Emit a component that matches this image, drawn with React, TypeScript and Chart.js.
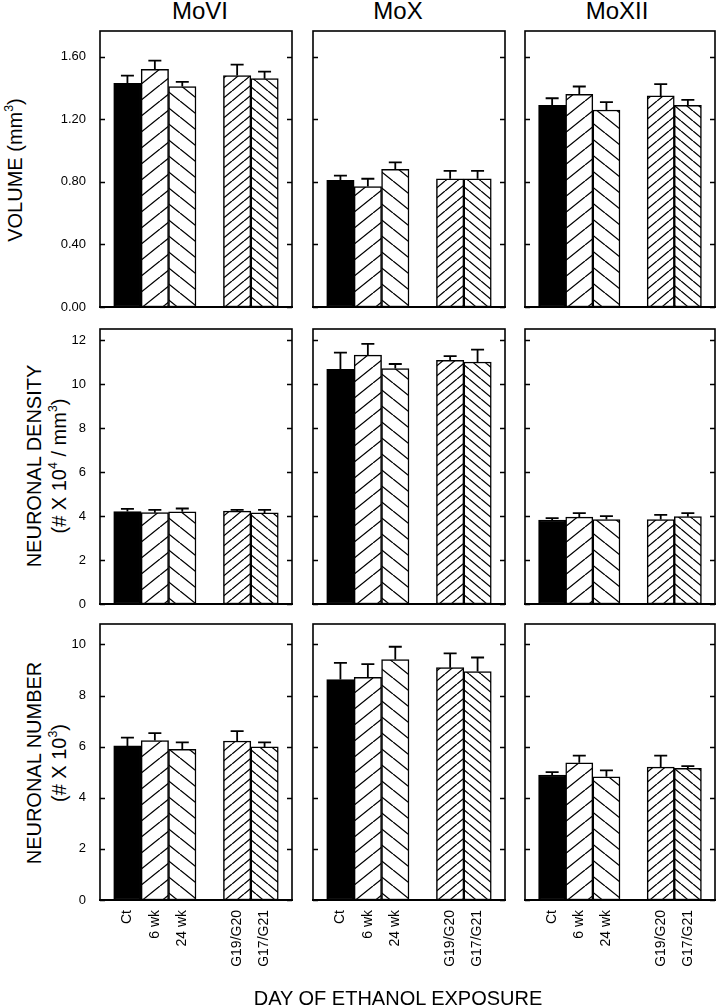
import React, { useEffect, useRef } from 'react';
import { Chart, registerables } from 'chart.js';
Chart.register(...registerables);

const FONT = "'Liberation Sans', Arial, Helvetica, sans-serif";
Chart.defaults.font.family = FONT;
Chart.defaults.color = '#000';

// ---- data ----
const categories = ['', 'Ct', '6 wk', '24 wk', '', 'G19/G20', 'G17/G21', ''];
const regions = ['MoVI', 'MoX', 'MoXII'];

const volumeTicks = [0, 0.4, 0.8, 1.2, 1.6];
const densityTicks = [0, 2, 4, 6, 8, 10, 12];
const numberTicks = [0, 2, 4, 6, 8, 10];

const volMoVI = [null, 1.43, 1.52, 1.41, null, 1.48, 1.46, null];
const volMoVIErr = [null, 0.05, 0.055, 0.03, null, 0.07, 0.045, null];
const volMoX = [null, 0.81, 0.77, 0.88, null, 0.82, 0.82, null];
const volMoXErr = [null, 0.03, 0.05, 0.045, null, 0.05, 0.05, null];
const volMoXII = [null, 1.29, 1.36, 1.26, null, 1.35, 1.29, null];
const volMoXIIErr = [null, 0.045, 0.05, 0.05, null, 0.075, 0.035, null];

const denMoVI = [null, 4.2, 4.15, 4.19, null, 4.22, 4.14, null];
const denMoVIErr = [null, 0.12, 0.13, 0.15, null, 0.06, 0.14, null];
const denMoX = [null, 10.67, 11.31, 10.7, null, 11.08, 11.0, null];
const denMoXErr = [null, 0.76, 0.51, 0.21, null, 0.19, 0.56, null];
const denMoXII = [null, 3.82, 3.95, 3.84, null, 3.84, 3.97, null];
const denMoXIIErr = [null, 0.08, 0.18, 0.15, null, 0.21, 0.16, null];

const numMoVI = [null, 6.03, 6.24, 5.9, null, 6.22, 5.99, null];
const numMoVIErr = [null, 0.32, 0.29, 0.27, null, 0.39, 0.18, null];
const numMoX = [null, 8.63, 8.71, 9.41, null, 9.09, 8.94, null];
const numMoXErr = [null, 0.65, 0.52, 0.5, null, 0.56, 0.55, null];
const numMoXII = [null, 4.89, 5.37, 4.82, null, 5.2, 5.15, null];
const numMoXIIErr = [null, 0.11, 0.28, 0.25, null, 0.45, 0.09, null];

// ---- layout ----
const COLS = [
  { left: 100, width: 192, title: 200 },
  { left: 313, width: 192, title: 398 },
  { left: 525, width: 190, title: 617 },
];
const ROWS = [
  { top: 31, height: 276 },
  { top: 329, height: 275 },
  { top: 624, height: 276 },
];

function makeHatch(dir: 'fwd' | 'back', w: number, h: number) {
  const c = document.createElement('canvas');
  c.width = w;
  c.height = h;
  const g = c.getContext('2d')!;
  g.fillStyle = '#fff';
  g.fillRect(0, 0, w, h);
  g.strokeStyle = '#000';
  g.lineWidth = 1.3;
  g.beginPath();
  for (const dx of [-w, 0, w]) {
    if (dir === 'fwd') {
      g.moveTo(dx, h);
      g.lineTo(dx + w, 0);
    } else {
      g.moveTo(dx, 0);
      g.lineTo(dx + w, h);
    }
  }
  g.stroke();
  return g.createPattern(c, 'repeat')!;
}

function zeroPad(s: any) {
  s.paddingTop = 0;
  s.paddingBottom = 0;
  s.paddingLeft = 0;
  s.paddingRight = 0;
}

type PanelProps = {
  row: number;
  col: number;
  values: (number | null)[];
  errors: (number | null)[];
  yMax: number;
  ticks: number[];
  digits: number;
};

function Panel({ row, col, values, errors, yMax, ticks, digits }: PanelProps) {
  const ref = useRef<HTMLCanvasElement>(null);
  const C = COLS[col];
  const R = ROWS[row];
  const padL = 60;
  const padT = 10;
  const padR = 6;
  const bottomH = row === 2 ? 90 : 10;
  const cw = padL + C.width + padR;
  const ch = padT + R.height + bottomH;
  const showY = col === 0;
  const showX = row === 2;

  useEffect(() => {
    const fills = [
      '#fff',
      '#000',
      makeHatch('fwd', 20, 16),
      makeHatch('back', 20, 16),
      '#fff',
      makeHatch('fwd', 12, 10),
      makeHatch('back', 12, 10),
      '#fff',
    ];
    const deco = {
      id: 'deco',
      afterDatasetsDraw(chart: any) {
        const { ctx, chartArea: a, scales } = chart;
        const y = scales.y;
        const meta = chart.getDatasetMeta(0);
        ctx.save();
        ctx.strokeStyle = '#000';
        ctx.lineWidth = 1.8;
        meta.data.forEach((el: any, i: number) => {
          const v = values[i];
          const e = errors[i];
          if (v == null || e == null) return;
          const top = y.getPixelForValue(v + e);
          const base = y.getPixelForValue(v);
          ctx.beginPath();
          ctx.moveTo(el.x, base);
          ctx.lineTo(el.x, top);
          ctx.moveTo(el.x - 6.5, top);
          ctx.lineTo(el.x + 6.5, top);
          ctx.stroke();
        });
        ctx.lineWidth = 1.5;
        y.ticks.forEach((t: any) => {
          const py = Math.round(y.getPixelForValue(t.value)) + 0.5;
          ctx.beginPath();
          ctx.moveTo(a.left, py);
          ctx.lineTo(a.left + 5, py);
          ctx.moveTo(a.right - 5, py);
          ctx.lineTo(a.right, py);
          ctx.stroke();
        });
        ctx.lineWidth = 1.6;
        ctx.strokeRect(a.left, a.top, a.right - a.left, a.bottom - a.top);
        ctx.lineWidth = 2.2;
        ctx.beginPath();
        ctx.moveTo(a.left - 1, a.bottom);
        ctx.lineTo(a.right + 1, a.bottom);
        ctx.stroke();
        ctx.restore();
      },
    };
    const chart = new Chart(ref.current!, {
      type: 'bar',
      data: {
        labels: categories,
        datasets: [
          {
            data: values as any,
            backgroundColor: fills as any,
            borderColor: '#000',
            borderWidth: 1.5,
            borderSkipped: false,
            categoryPercentage: 1,
            barPercentage: 1,
          },
        ],
      },
      options: {
        responsive: false,
        animation: false,
        devicePixelRatio: 1,
        layout: { padding: { top: padT, right: padR, left: 0, bottom: 0 } },
        plugins: { legend: { display: false }, tooltip: { enabled: false } },
        scales: {
          x: {
            type: 'category',
            offset: false,
            grid: { display: false, drawTicks: false },
            border: { display: false },
            ticks: {
              display: showX,
              autoSkip: false,
              minRotation: 90,
              maxRotation: 90,
              padding: 10,
              font: { size: 14, family: FONT },
              color: '#000',
            },
            afterFit: (s: any) => {
              s.height = bottomH;
              zeroPad(s);
            },
          },
          y: {
            min: 0,
            max: yMax,
            grid: { display: false, drawTicks: false },
            border: { display: false },
            ticks: {
              display: showY,
              padding: 14,
              font: { size: 13, family: FONT },
              color: '#000',
              callback: (v: any) => Number(v).toFixed(digits),
            },
            afterBuildTicks: (s: any) => {
              s.ticks = ticks.map((v) => ({ value: v }));
            },
            afterFit: (s: any) => {
              s.width = padL;
              zeroPad(s);
            },
          },
        },
      },
      plugins: [deco],
    });
    return () => chart.destroy();
  }, []);

  return (
    <canvas
      ref={ref}
      width={cw}
      height={ch}
      style={{
        position: 'absolute',
        left: C.left - padL,
        top: R.top - padT,
        width: cw,
        height: ch,
      }}
    />
  );
}

const sup = (t: string) => (
  <span style={{ fontSize: '0.62em', position: 'relative', top: '-0.7em' }}>{t}</span>
);

function YTitle({ cx, cy, children }: { cx: number; cy: number; children: any }) {
  return (
    <div
      style={{
        position: 'absolute',
        left: cx,
        top: cy,
        transform: 'translate(-50%, -50%) rotate(-90deg)',
        whiteSpace: 'nowrap',
        textAlign: 'center',
        fontSize: 20,
        lineHeight: '25px',
        fontFamily: FONT,
        color: '#000',
      }}
    >
      {children}
    </div>
  );
}

export default function App() {
  return (
    <div
      style={{
        position: 'absolute',
        left: 0,
        top: 0,
        width: 717,
        height: 1008,
        background: '#fff',
        overflow: 'hidden',
        fontFamily: FONT,
      }}
    >
      {regions.map((r, i) => (
        <div
          key={r}
          style={{
            position: 'absolute',
            left: COLS[i].title,
            top: -1,
            transform: 'translateX(-50%)',
            fontSize: 24,
            lineHeight: '24px',
            whiteSpace: 'nowrap',
          }}
        >
          {r}
        </div>
      ))}

      <YTitle cx={17} cy={170}>
        <div>VOLUME (mm{sup('3')})</div>
      </YTitle>
      <YTitle cx={48} cy={466}>
        <div>NEURONAL DENSITY</div>
        <div>(# X 10{sup('4')} / mm{sup('3')})</div>
      </YTitle>
      <YTitle cx={48} cy={763}>
        <div>NEURONAL NUMBER</div>
        <div>(# X 10{sup('3')})</div>
      </YTitle>

      <Panel row={0} col={0} values={volMoVI} errors={volMoVIErr} yMax={1.765} ticks={volumeTicks} digits={2} />
      <Panel row={0} col={1} values={volMoX} errors={volMoXErr} yMax={1.765} ticks={volumeTicks} digits={2} />
      <Panel row={0} col={2} values={volMoXII} errors={volMoXIIErr} yMax={1.765} ticks={volumeTicks} digits={2} />
      <Panel row={1} col={0} values={denMoVI} errors={denMoVIErr} yMax={12.5} ticks={densityTicks} digits={0} />
      <Panel row={1} col={1} values={denMoX} errors={denMoXErr} yMax={12.5} ticks={densityTicks} digits={0} />
      <Panel row={1} col={2} values={denMoXII} errors={denMoXIIErr} yMax={12.5} ticks={densityTicks} digits={0} />
      <Panel row={2} col={0} values={numMoVI} errors={numMoVIErr} yMax={10.8} ticks={numberTicks} digits={0} />
      <Panel row={2} col={1} values={numMoX} errors={numMoXErr} yMax={10.8} ticks={numberTicks} digits={0} />
      <Panel row={2} col={2} values={numMoXII} errors={numMoXIIErr} yMax={10.8} ticks={numberTicks} digits={0} />

      <div
        style={{
          position: 'absolute',
          left: 398,
          top: 988,
          transform: 'translateX(-50%)',
          fontSize: 20,
          lineHeight: '20px',
          whiteSpace: 'nowrap',
        }}
      >
        DAY OF ETHANOL EXPOSURE
      </div>
    </div>
  );
}
